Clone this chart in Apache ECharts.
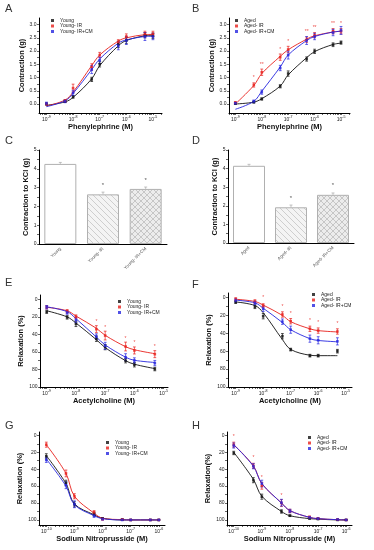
<!DOCTYPE html>
<html><head><meta charset="utf-8">
<script src="https://cdn.jsdelivr.net/npm/echarts@6/dist/echarts.min.js"></script>
<style>html,body{margin:0;padding:0;background:#fff}#c{width:374px;height:550px}</style>
</head><body><div id="c"></div>
<script>
// ---------- DATA ----------
const youngNames = ['Young', 'Young- IR', 'Young- IR+CM'];
const agedNames = ['Aged', 'Aged- IR', 'Aged- IR+CM'];

// Phenylephrine (M)
const pheConc = [1e-9, 5e-9, 1e-8, 5e-8, 1e-7, 5e-7, 1e-6, 5e-6, 1e-5];
// A: Young groups, contraction (g)
const aYoung     = [0.00, 0.10, 0.27, 0.93, 1.50, 2.25, 2.40, 2.60, 2.58];
const aYoungIR   = [0.00, 0.12, 0.60, 1.40, 1.85, 2.35, 2.55, 2.65, 2.65];
const aYoungIRCM = [0.02, 0.10, 0.42, 1.30, 1.65, 2.20, 2.40, 2.55, 2.55];
const aYoungErr     = [0.03, 0.04, 0.05, 0.08, 0.10, 0.12, 0.12, 0.10, 0.10];
const aYoungIRErr   = [0.03, 0.05, 0.15, 0.12, 0.10, 0.08, 0.10, 0.10, 0.10];
const aYoungIRCMErr = [0.05, 0.05, 0.10, 0.15, 0.12, 0.15, 0.15, 0.15, 0.12];
const aYoungFit     = [-0.05, 0.08, 0.25, 0.95, 1.45, 2.20, 2.40, 2.58, 2.60];
const aYoungIRFit   = [-0.08, 0.15, 0.45, 1.45, 1.85, 2.38, 2.50, 2.62, 2.63];
const aYoungIRCMFit = [-0.10, 0.12, 0.40, 1.30, 1.70, 2.30, 2.42, 2.55, 2.56];
// B: Aged groups
const bAged     = [0.02, 0.07, 0.19, 0.67, 1.15, 1.70, 1.99, 2.24, 2.32];
const bAgedIR   = [0.05, 0.72, 1.20, 1.77, 2.06, 2.43, 2.60, 2.75, 2.75];
const bAgedIRCM = [0.03, 0.10, 0.45, 1.36, 1.85, 2.40, 2.55, 2.70, 2.78];
const bAgedErr     = [0.03, 0.03, 0.04, 0.06, 0.10, 0.08, 0.08, 0.07, 0.06];
const bAgedIRErr   = [0.04, 0.08, 0.12, 0.12, 0.12, 0.10, 0.10, 0.10, 0.10];
const bAgedIRCMErr = [0.03, 0.05, 0.08, 0.10, 0.15, 0.15, 0.12, 0.12, 0.15];
const bAgedFit     = [0.00, 0.07, 0.20, 0.68, 1.10, 1.75, 1.98, 2.25, 2.30];
const bAgedIRFit   = [0.00, 0.70, 1.15, 1.80, 2.05, 2.45, 2.58, 2.72, 2.75];
const bAgedIRCMFit = [-0.20, 0.10, 0.48, 1.40, 1.85, 2.40, 2.55, 2.72, 2.75];
// significance marks above the IR points
const bAgedIRSig = ['', '*', '**', '*', '*', '**', '**', '**', '*'];

// C / D: Contraction to KCl (g)
const cValues = [4.26, 2.64, 2.93];
const cErr    = [0.08, 0.12, 0.10];
const dValues = [4.15, 1.92, 2.59];
const dErr    = [0.08, 0.12, 0.10];

// Acetylcholine (M), relaxation (%)
const achConc = [1e-9, 5e-9, 1e-8, 5e-8, 1e-7, 5e-7, 1e-6, 5e-6];
const eYoung     = [14.4, 20.5, 28.0, 45.0, 54.5, 70.0, 74.6, 79.5];
const eYoungIR   = [9.0, 13.6, 19.7, 34.0, 41.3, 53.8, 58.3, 62.5];
const eYoungIRCM = [9.0, 15.0, 23.5, 42.4, 53.0, 66.0, 69.7, 72.7];
const eYoungErr     = [1.5, 2, 3, 3, 3, 2.5, 2.5, 2];
const eYoungIRErr   = [2, 2, 2, 4, 5, 5, 4, 4];
const eYoungIRCMErr = [2, 2, 3, 3, 4, 4, 3, 3];
const eYoungFit     = [13, 20, 27, 46, 55, 70, 74, 79];
const eYoungIRFit   = [9, 13, 19, 33, 41, 54, 57.5, 62];
const eYoungIRCMFit = [8.5, 14, 22, 43, 52, 66, 69.5, 72];
const eYoungIRSig   = ['', '', '', '*', '*', '*', '*', '*'];

const fAged     = [5.2, 10.4, 20.9, 43.3, 58.2, 65.0, 65.0, 60.0];
const fAgedIR   = [2.2, 4.5, 9.0, 19.0, 26.5, 35.0, 37.0, 38.0];
const fAgedIRCM = [3.4, 6.0, 12.7, 27.0, 36.0, 46.0, 47.8, 49.0];
const fAgedErr     = [1.5, 2, 3, 3, 1.5, 1.5, 1.5, 2];
const fAgedIRErr   = [2, 2, 2, 3, 3, 3, 3, 3];
const fAgedIRCMErr = [2, 2, 3, 3, 4, 4, 4, 4];
const fAgedFit     = [5, 9, 17, 47, 58, 64.5, 65, 65];
const fAgedIRFit   = [2, 4.5, 8.5, 20, 27, 35, 37, 38.5];
const fAgedIRCMFit = [3, 6, 12, 28, 36, 46, 48, 49.5];
const fAgedIRSig   = ['', '', '*', '*', '*', '*', '*', '*'];

// Sodium nitroprusside (M), relaxation (%)
const snpConc = [1e-10, 5e-10, 1e-9, 5e-9, 1e-8, 5e-8, 1e-7, 5e-7, 1e-6];
const gYoung     = [24.7, 56.0, 81.6, 93.0, 98.4, 99.5, 100, 100, 100];
const gYoungIR   = [11.0, 45.0, 72.0, 91.0, 99.0, 99.5, 100, 100, 100];
const gYoungIRCM = [29.0, 59.0, 81.5, 95.0, 99.0, 100, 100, 100, 100];
const gYoungErr     = [3, 3, 3, 2, 1, 0.5, 0.5, 0.5, 0.5];
const gYoungIRErr   = [3, 4, 3, 2, 1, 0.5, 0.5, 0.5, 0.5];
const gYoungIRCMErr = [3, 4, 4, 2, 1, 0.5, 0.5, 0.5, 0.5];
const gYoungFit     = [24, 57, 81, 94, 98, 100, 100, 100, 100];
const gYoungIRFit   = [11, 45, 72, 92, 98, 99.7, 100, 100, 100];
const gYoungIRCMFit = [28, 60, 82, 95, 98.5, 100, 100, 100, 100];

const hAged     = [20.8, 53.0, 72.5, 90.0, 95.0, 98.4, 99.0, 100, 100];
const hAgedIR   = [11.0, 36.0, 59.6, 80.0, 89.4, 96.5, 98.4, 99.5, 100];
const hAgedIRCM = [12.0, 36.5, 57.0, 79.6, 89.4, 97.0, 98.5, 99.5, 100];
const hAgedErr     = [2, 3, 3, 2, 1, 0.5, 0.5, 0.5, 0.5];
const hAgedIRErr   = [3, 3, 4, 4, 2, 1, 1, 0.5, 0.5];
const hAgedIRCMErr = [3, 3, 4, 4, 2, 1, 1, 0.5, 0.5];
const hAgedFit     = [20, 52, 72, 90, 95, 98.5, 99, 100, 100];
const hAgedIRFit   = [11, 36, 57, 80, 89, 97, 98.5, 99.7, 100];
const hAgedIRCMFit = [11, 36.5, 57, 80, 89, 97, 98.5, 99.7, 100];
const hAgedIRSig   = ['*', '*', '*', '*', '', '', '', '', ''];

// ---------- STYLE / LAYOUT ----------
const FONT = 'Liberation Sans, Arial, sans-serif';
const COLORS = ['#111111', '#e8201c', '#2626e0'];
const grids = [
  {left: 39, top: 18, width: 123, height: 95},   // A
  {left: 229, top: 18, width: 121, height: 95},  // B
  {left: 39, top: 150, width: 128, height: 94},  // C
  {left: 228, top: 150, width: 126, height: 93}, // D
  {left: 40, top: 295, width: 128, height: 92},  // E
  {left: 228, top: 293, width: 124, height: 94}, // F
  {left: 39, top: 432, width: 126, height: 93},  // G
  {left: 227, top: 432, width: 125, height: 93}  // H
];

const powFmt = v => '{b|10}{s|' + Math.round(v) + '}';
const powRich = {
  b: {fontFamily: FONT, fontSize: 5, color: '#222', verticalAlign: 'bottom', lineHeight: 7},
  s: {fontFamily: FONT, fontSize: 3.6, color: '#222', verticalAlign: 'top', lineHeight: 7}
};

function logMinor(min, max) {
  const out = [];
  for (let d = Math.floor(min); d <= Math.ceil(max); d++) {
    for (let k = 1; k <= 9; k++) {
      const v = d + Math.log10(k);
      if (v >= min && v <= max) out.push(v);
    }
  }
  return out;
}

const axisLineStyle = {show: true, onZero: false, lineStyle: {color: '#000', width: 1}};
const nameStyle = {fontFamily: FONT, fontWeight: 'bold', fontSize: 7.5, color: '#111'};
const tickLabelStyle = {fontFamily: FONT, fontSize: 5, color: '#222', margin: 2.5};

function xLog(gi, min, max, majors, name, gap) {
  return {
    type: 'value', gridIndex: gi, min, max,
    axisLine: axisLineStyle,
    axisTick: {show: true, length: 2, customValues: logMinor(min, max), lineStyle: {color: '#000', width: 0.6}},
    axisLabel: Object.assign({customValues: majors, formatter: powFmt, rich: powRich}, tickLabelStyle, {margin: 2}),
    splitLine: {show: false},
    name, nameLocation: 'middle', nameGap: gap, nameTextStyle: nameStyle
  };
}
function yVal(gi, min, max, majors, minors, fmt, name, gap, inverse) {
  return {
    type: 'value', gridIndex: gi, min, max, inverse: !!inverse,
    axisLine: axisLineStyle,
    axisTick: {show: true, length: 2, customValues: minors, lineStyle: {color: '#000', width: 0.6}},
    axisLabel: Object.assign({customValues: majors, formatter: fmt}, tickLabelStyle),
    splitLine: {show: false},
    name, nameLocation: 'middle', nameGap: gap, nameTextStyle: nameStyle
  };
}

function errRender(params, api) {
  const x = api.value(0), y = api.value(1), e = api.value(2);
  const p1 = api.coord([x, y - e]), p2 = api.coord([x, y + e]);
  const w = 1.4;
  const st = {stroke: api.visual('color'), lineWidth: 0.7};
  return {type: 'group', children: [
    {type: 'line', shape: {x1: p1[0], y1: p1[1], x2: p2[0], y2: p2[1]}, style: st},
    {type: 'line', shape: {x1: p1[0] - w, y1: p1[1], x2: p1[0] + w, y2: p1[1]}, style: st},
    {type: 'line', shape: {x1: p2[0] - w, y1: p2[1], x2: p2[0] + w, y2: p2[1]}, style: st}
  ]};
}

const series = [];
function addGroups(gi, conc, means, errs, fits, names, sig) {
  const xs = conc.map(c => Math.log10(c));
  for (let k = 0; k < 3; k++) {
    const col = COLORS[k];
    series.push({
      type: 'line', name: names[k] + ' fit', xAxisIndex: gi, yAxisIndex: gi,
      data: xs.map((x, i) => [x, fits[k][i]]), smooth: 0.35, showSymbol: false,
      lineStyle: {color: col, width: 0.9}, itemStyle: {color: col}, z: 2, silent: true
    });
    series.push({
      type: 'custom', name: names[k] + ' err', xAxisIndex: gi, yAxisIndex: gi,
      data: xs.map((x, i) => [x, means[k][i], errs[k][i]]), renderItem: errRender,
      itemStyle: {color: col}, z: 3, silent: true
    });
    const sg = sig && sig[k];
    series.push({
      type: 'scatter', name: names[k], xAxisIndex: gi, yAxisIndex: gi,
      data: xs.map((x, i) => ({
        value: [x, means[k][i]],
        label: sg && sg[i] ? {show: true, formatter: sg[i], position: 'top', distance: 4, fontSize: 5, color: col, fontFamily: FONT} : {show: false}
      })),
      symbol: 'rect', symbolSize: 2.6,
      itemStyle: {color: col}, z: 4, silent: true
    });
  }
}

function hatch(bg, fg, cross) {
  const s = 6;
  const c = document.createElement('canvas'); c.width = c.height = s;
  const g = c.getContext('2d');
  g.fillStyle = bg; g.fillRect(0, 0, s, s);
  g.strokeStyle = fg; g.lineWidth = 0.8;
  g.beginPath();
  for (let o = -s; o <= s; o += s) { g.moveTo(o, 0); g.lineTo(o + s, s); }
  if (cross) for (let o = 0; o <= 2 * s; o += s) { g.moveTo(o, 0); g.lineTo(o - s, s); }
  g.stroke();
  return c;
}
const barFills = [
  '#ffffff',
  {image: hatch('#f4f4f4', '#c4c4c4', false), repeat: 'repeat'},
  {image: hatch('#ececec', '#bdbdbd', true), repeat: 'repeat'}
];

function addBars(gi, names, values, errs) {
  series.push({
    type: 'bar', xAxisIndex: gi, yAxisIndex: gi, barWidth: 32, silent: true,
    data: values.map((v, i) => ({
      value: v,
      itemStyle: {color: barFills[i], borderColor: '#b0b0b0', borderWidth: 1},
      label: {show: i > 0, position: 'top', distance: 6, formatter: '*', fontSize: 6, color: '#555', fontFamily: FONT}
    })), z: 2
  });
  series.push({
    type: 'custom', xAxisIndex: gi, yAxisIndex: gi, silent: true,
    data: values.map((v, i) => [i, v, errs[i]]),
    renderItem: function (params, api) {
      const x = api.value(0), y = api.value(1), e = api.value(2);
      const p1 = api.coord([x, y]), p2 = api.coord([x, y + e]);
      const st = {stroke: '#aaa', lineWidth: 0.7};
      return {type: 'group', children: [
        {type: 'line', shape: {x1: p1[0], y1: p1[1], x2: p2[0], y2: p2[1]}, style: st},
        {type: 'line', shape: {x1: p2[0] - 1.5, y1: p2[1], x2: p2[0] + 1.5, y2: p2[1]}, style: st}
      ]};
    }, z: 3
  });
}

const xAxes = [], yAxes = [];
const MAJ_P = [-9, -8, -7, -6, -5];
const MAJ_S = [-10, -9, -8, -7, -6];
const gFmt1 = v => v.toFixed(1);
const intFmt = v => String(Math.round(v));
const contrMaj = [0, 0.5, 1, 1.5, 2, 2.5, 3];
const contrMin = [0, 0.25, 0.5, 0.75, 1, 1.25, 1.5, 1.75, 2, 2.25, 2.5, 2.75, 3];
const relMaj = [0, 20, 40, 60, 80, 100];
const relMin = [0, 10, 20, 30, 40, 50, 60, 70, 80, 90, 100];

// A
xAxes.push(xLog(0, -9.28, -4.66, MAJ_P, 'Phenylephrine (M)', 9));
yAxes.push(yVal(0, -0.34, 3.25, contrMaj, contrMin, gFmt1, 'Contraction (g)', 13));
// B
xAxes.push(xLog(1, -9.24, -4.66, MAJ_P, 'Phenylephrine (M)', 9));
yAxes.push(yVal(1, -0.34, 3.25, contrMaj, contrMin, gFmt1, 'Contraction (g)', 13));
// C, D
[[2, youngNames], [3, agedNames]].forEach(([gi, names]) => {
  xAxes.push({
    type: 'category', gridIndex: gi, data: names,
    axisLine: axisLineStyle, axisTick: {show: false},
    axisLabel: {rotate: 45, interval: 0, fontSize: 4.5, color: '#555', fontFamily: FONT, margin: 4}
  });
  yAxes.push(yVal(gi, 0, 5, [0, 1, 2, 3, 4, 5], [0, 0.5, 1, 1.5, 2, 2.5, 3, 3.5, 4, 4.5, 5], intFmt, 'Contraction to KCl (g)', 9));
});
// E, F
xAxes.push(xLog(4, -9.23, -4.85, MAJ_P, 'Acetylcholine (M)', 4));
yAxes.push(yVal(4, -5, 100, relMaj, relMin, intFmt, 'Relaxation (%)', 12, true));
xAxes.push(xLog(5, -9.28, -4.77, MAJ_P, 'Acetylcholine (M)', 4));
yAxes.push(yVal(5, -5, 100, relMaj, relMin, intFmt, 'Relaxation (%)', 12, true));
// G, H
xAxes.push(xLog(6, -10.26, -5.78, MAJ_S, 'Sodium Nitroprusside (M)', 9));
yAxes.push(yVal(6, -4, 106, relMaj, relMin, intFmt, 'Relaxation (%)', 13, true));
xAxes.push(xLog(7, -10.24, -5.79, MAJ_S, 'Sodium Nitroprusside (M)', 9));
yAxes.push(yVal(7, -4, 106, relMaj, relMin, intFmt, 'Relaxation(%)', 13, true));

addGroups(0, pheConc, [aYoung, aYoungIR, aYoungIRCM], [aYoungErr, aYoungIRErr, aYoungIRCMErr], [aYoungFit, aYoungIRFit, aYoungIRCMFit], youngNames);
addGroups(1, pheConc, [bAged, bAgedIR, bAgedIRCM], [bAgedErr, bAgedIRErr, bAgedIRCMErr], [bAgedFit, bAgedIRFit, bAgedIRCMFit], agedNames, [null, bAgedIRSig, null]);
addBars(2, youngNames, cValues, cErr);
addBars(3, agedNames, dValues, dErr);
addGroups(4, achConc, [eYoung, eYoungIR, eYoungIRCM], [eYoungErr, eYoungIRErr, eYoungIRCMErr], [eYoungFit, eYoungIRFit, eYoungIRCMFit], youngNames, [null, eYoungIRSig, null]);
addGroups(5, achConc, [fAged, fAgedIR, fAgedIRCM], [fAgedErr, fAgedIRErr, fAgedIRCMErr], [fAgedFit, fAgedIRFit, fAgedIRCMFit], agedNames, [null, fAgedIRSig, null]);
addGroups(6, snpConc, [gYoung, gYoungIR, gYoungIRCM], [gYoungErr, gYoungIRErr, gYoungIRCMErr], [gYoungFit, gYoungIRFit, gYoungIRCMFit], youngNames);
addGroups(7, snpConc, [hAged, hAgedIR, hAgedIRCM], [hAgedErr, hAgedIRErr, hAgedIRCMErr], [hAgedFit, hAgedIRFit, hAgedIRCMFit], agedNames, [null, hAgedIRSig, null]);

function legend(left, top, names) {
  return {
    orient: 'vertical', left, top, padding: 0, itemGap: 0.5, itemWidth: 3, itemHeight: 3,
    icon: 'rect', selectedMode: false, data: names,
    textStyle: {fontFamily: FONT, fontSize: 5, color: '#222', padding: [0, 0, 0, 1]}
  };
}
const legends = [
  legend(51, 18, youngNames),
  legend(235, 18, agedNames),
  legend(118, 299, youngNames),
  legend(312, 292, agedNames),
  legend(106, 440, youngNames),
  legend(308, 435, agedNames)
];

const letters = [['A', 5, 3], ['B', 192, 3], ['C', 5, 135], ['D', 192, 135], ['E', 5, 277], ['F', 192, 279], ['G', 5, 420], ['H', 192, 420]];

const chart = echarts.init(document.getElementById('c'), null, {renderer: 'canvas'});
chart.setOption({
  animation: false,
  backgroundColor: '#fff',
  textStyle: {fontFamily: FONT},
  grid: grids,
  xAxis: xAxes,
  yAxis: yAxes,
  legend: legends,
  series,
  graphic: letters.map(([t, x, y]) => ({type: 'text', left: x, top: y, style: {text: t, fontSize: 11, fill: '#333', fontFamily: FONT}}))
});
</script></body></html>
